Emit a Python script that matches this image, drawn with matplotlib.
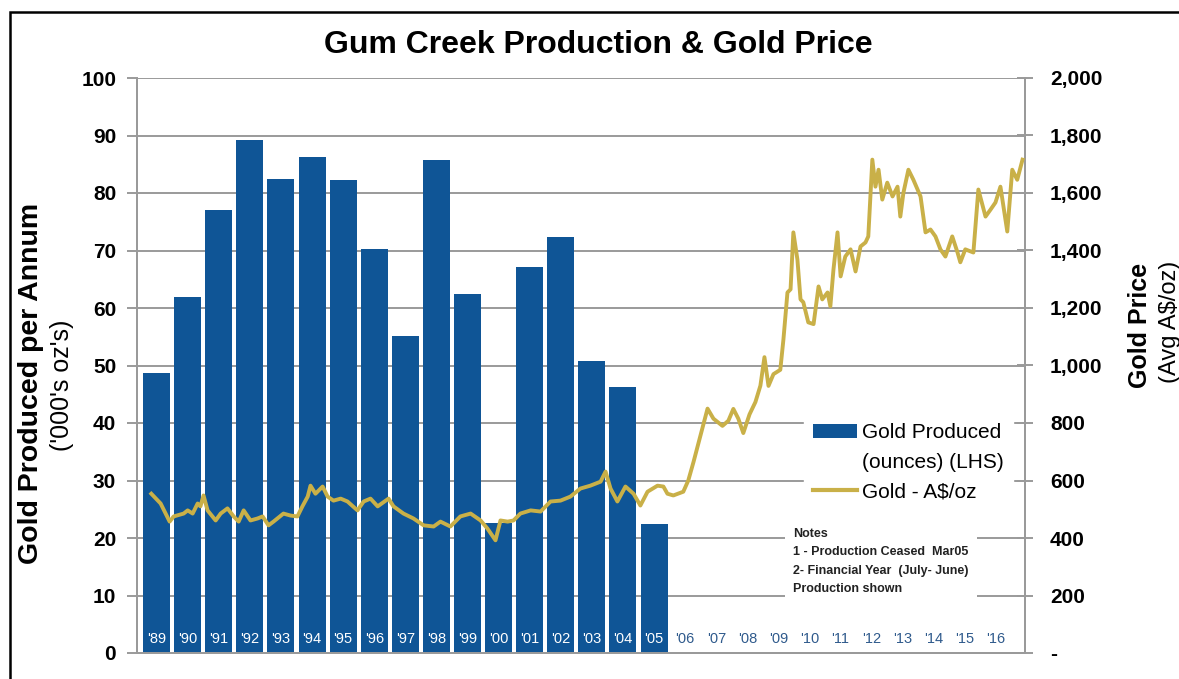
import matplotlib
matplotlib.use("Agg")
import matplotlib.pyplot as plt
from matplotlib.patches import Rectangle, Patch
from matplotlib.lines import Line2D
import numpy as np

plt.rcParams['font.family'] = ['Liberation Sans', 'DejaVu Sans']

# ---------------- data ----------------
years = ["'89", "'90", "'91", "'92", "'93", "'94", "'95", "'96", "'97", "'98",
         "'99", "'00", "'01", "'02", "'03", "'04", "'05", "'06", "'07", "'08",
         "'09", "'10", "'11", "'12", "'13", "'14", "'15", "'16"]
production = [48.7, 62.0, 77.0, 89.2, 82.5, 86.2, 82.3, 70.2, 55.1, 85.7,
              62.5, 22.6, 67.1, 72.4, 50.8, 46.3, 22.4, 0, 0, 0,
              0, 0, 0, 0, 0, 0, 0, 0]

gold_year = [1989.33, 1989.63, 1989.92, 1990.05, 1990.37, 1990.50, 1990.66, 1990.82, 1990.91, 1991.01,
             1991.14, 1991.40, 1991.56, 1991.78, 1991.98, 1992.14, 1992.30, 1992.52, 1992.75, 1992.91,
             1993.10, 1993.26, 1993.58, 1993.81, 1994.03, 1994.19, 1994.36, 1994.45, 1994.61, 1994.84,
             1995.00, 1995.19, 1995.42, 1995.64, 1995.96, 1996.16, 1996.38, 1996.61, 1996.96, 1997.12,
             1997.44, 1997.76, 1998.09, 1998.41, 1998.63, 1998.95, 1999.27, 1999.60, 1999.92, 2000.14,
             2000.40, 2000.56, 2000.79, 2000.98, 2001.20, 2001.53, 2001.85, 2002.17, 2002.49, 2002.81,
             2003.13, 2003.45, 2003.78, 2003.94, 2004.10, 2004.32, 2004.58, 2004.84, 2005.06, 2005.29,
             2005.61, 2005.80, 2005.93, 2006.12, 2006.44, 2006.60, 2006.77, 2006.99, 2007.22, 2007.41,
             2007.70, 2007.89, 2008.05, 2008.21, 2008.37, 2008.57, 2008.76, 2008.92, 2009.05, 2009.18,
             2009.34, 2009.56, 2009.66, 2009.79, 2009.89, 2009.98, 2010.11, 2010.21, 2010.30, 2010.46,
             2010.63, 2010.79, 2010.91, 2011.08, 2011.17, 2011.27, 2011.40, 2011.50, 2011.65, 2011.82,
             2011.98, 2012.14, 2012.30, 2012.39, 2012.52, 2012.62, 2012.72, 2012.84, 2013.00, 2013.17,
             2013.33, 2013.42, 2013.52, 2013.68, 2013.84, 2014.07, 2014.23, 2014.39, 2014.55, 2014.71,
             2014.87, 2015.09, 2015.26, 2015.35, 2015.51, 2015.67, 2015.77, 2015.93, 2016.16, 2016.32,
             2016.48, 2016.64, 2016.86, 2017.02, 2017.18, 2017.35]
gold_price = [554, 520, 457, 475, 485, 496, 485, 520, 510, 548,
              496, 461, 485, 503, 475, 457, 496, 461, 468, 475,
              444, 457, 485, 478, 475, 510, 544, 582, 554, 579,
              544, 530, 537, 527, 496, 527, 537, 510, 537, 510,
              485, 468, 444, 440, 457, 440, 475, 485, 461, 433,
              392, 461, 457, 461, 485, 496, 492, 527, 530, 544,
              572, 582, 596, 631, 572, 527, 579, 554, 513, 561,
              582, 579, 554, 548, 561, 600, 665, 755, 850, 815,
              790, 808, 849, 815, 765, 830, 873, 930, 1029, 929,
              970, 985, 1090, 1254, 1265, 1463, 1369, 1230, 1220, 1150,
              1144, 1275, 1230, 1254, 1206, 1334, 1463, 1310, 1379, 1404,
              1327, 1414, 1428, 1449, 1716, 1622, 1681, 1577, 1636, 1588,
              1622, 1518, 1601, 1681, 1646, 1588, 1463, 1473, 1449, 1404,
              1379, 1449, 1393, 1359, 1404, 1397, 1393, 1612, 1518, 1542,
              1567, 1622, 1466, 1681, 1646, 1716]

left_ticks = [0, 10, 20, 30, 40, 50, 60, 70, 80, 90, 100]
right_ticks = [0, 200, 400, 600, 800, 1000, 1200, 1400, 1600, 1800, 2000]

# ---------------- style ----------------
BLUE = '#0F5596'
GOLD = '#C9B048'
GRID = '#9A9A9A'

W, H = 1179, 679
fig = plt.figure(figsize=(W / 100, H / 100), dpi=100)
ax = fig.add_axes([137 / W, 1 - 653 / H, 888 / W, (653 - 78) / H])

x = np.arange(len(years))
ax.bar(x, production, width=0.87, color=BLUE, zorder=2)
ax.set_ylim(0, 100)
ax.set_xlim(-0.63, 27.93)
ax.set_yticks(left_ticks)
ax.set_yticklabels([str(v) for v in left_ticks], fontsize=15, fontweight='bold')
ax.grid(axis='y', color=GRID, linewidth=1.4, zorder=0)
ax.set_axisbelow(True)
ax.spines['top'].set_visible(False)
for s in ['left', 'right', 'bottom']:
    ax.spines[s].set_color(GRID)
    ax.spines[s].set_linewidth(1.4)
ax.tick_params(axis='y', direction='out', length=7, color=GRID, width=1.4, pad=8)

ax.set_xticks(x)
ax.set_xticklabels(years, fontsize=10.5)
ax.tick_params(axis='x', length=0, pad=-15)
ax.xaxis.set_zorder(4)
for lbl, v in zip(ax.get_xticklabels(), production):
    lbl.set_color('white' if v > 0 else '#2F5A8C')

ax2 = ax.twinx()
gx = np.array(gold_year) - 1989.5
ax2.plot(gx, gold_price, color=GOLD, linewidth=2.8, zorder=3, solid_joinstyle='round')
ax2.set_ylim(0, 2000)
ax2.set_yticks(right_ticks)
ax2.set_yticklabels(['-' if v == 0 else f'{v:,}' for v in right_ticks], fontsize=15, fontweight='bold')
ax2.tick_params(axis='y', direction='inout', length=12, color=GRID, width=1.4, pad=12)
ax2.spines['top'].set_visible(False)
for s in ['left', 'right', 'bottom']:
    ax2.spines[s].set_color(GRID)
    ax2.spines[s].set_linewidth(1.4)

handles = [Patch(facecolor=BLUE, edgecolor='none'),
           Patch(facecolor='none', edgecolor='none'),
           Line2D([0], [0], color=GOLD, linewidth=3.0)]
leg = ax2.legend(handles, ['Gold Produced', '(ounces) (LHS)', 'Gold - A$/oz'],
                 loc='upper left', bbox_to_anchor=(804 / W, 1 - 414 / H),
                 bbox_transform=fig.transFigure, frameon=True, fancybox=False,
                 facecolor='white', edgecolor='white', framealpha=1,
                 fontsize=15, handlelength=2.1, handleheight=0.7, handletextpad=0.25,
                 labelspacing=0.5, borderpad=0.45, borderaxespad=0)
leg.set_zorder(5)

notes = "Notes\n1 - Production Ceased  Mar05\n2- Financial Year  (July- June)\nProduction shown"
fig.text(793 / W, 1 - 528 / H, notes, fontsize=9, fontweight='bold', va='top', ha='left',
         linespacing=1.7, color='#222222',
         bbox=dict(facecolor='white', edgecolor='none', pad=6), zorder=6)

# titles and axis labels
fig.text(598 / W, 1 - 45 / H, 'Gum Creek Production & Gold Price', fontsize=23,
         fontweight='bold', ha='center', va='center')
fig.text(31 / W, 1 - 383 / H, 'Gold Produced per Annum', fontsize=20.5, fontweight='bold',
         rotation=90, ha='center', va='center')
fig.text(62 / W, 1 - 385 / H, "('000's oz's)", fontsize=18,
         rotation=90, ha='center', va='center')
fig.text(1140 / W, 1 - 325 / H, 'Gold Price', fontsize=18, fontweight='bold',
         rotation=90, ha='center', va='center')
fig.text(1170 / W, 1 - 322 / H, '(Avg A$/oz)', fontsize=17,
         rotation=90, ha='center', va='center')

# outer frame
fig.patches.append(Rectangle((10 / W, -0.05), 1.2, 1 - 12 / H + 0.05, transform=fig.transFigure,
                             fill=False, edgecolor='black', linewidth=1.8, clip_on=False))

fig.savefig('out.png', dpi=100)
